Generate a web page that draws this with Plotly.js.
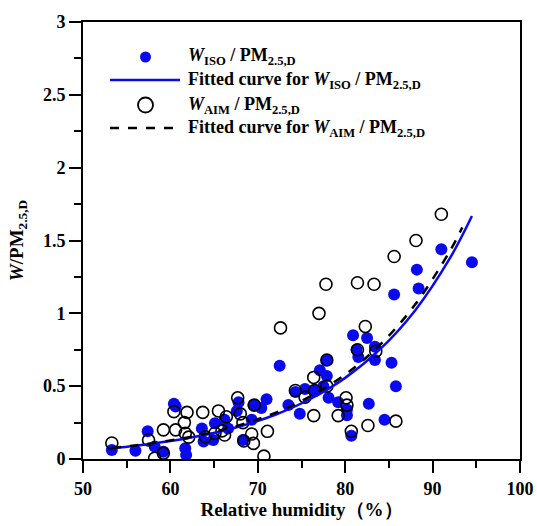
<!DOCTYPE html>
<html>
<head>
<meta charset="utf-8">
<script src="https://cdn.plot.ly/plotly-3.0.1.min.js"></script>
<style>html,body{margin:0;padding:0;background:#fff;}#chart{width:537px;height:526px;}</style>
</head>
<body>
<div id="chart"></div>
<script>
// W_ISO / PM2.5,D (filled blue)
const isoRH = [53.3,56.0,57.4,58.2,59.2,60.4,60.6,61.7,61.8,63.6,63.8,64.9,65.1,66.2,66.6,67.6,67.8,68.3,69.3,69.5,70.4,71.0,72.5,73.5,74.3,74.8,75.4,76.4,77.1,77.5,77.9,77.9,78.1,79.2,80.2,80.2,80.7,80.9,81.3,81.5,82.5,82.7,83.4,83.4,84.5,85.3,85.6,85.8,88.2,88.4,91.0,94.5];
const isoW  = [0.062,0.057,0.19,0.085,0.05,0.38,0.36,0.074,0.028,0.21,0.12,0.13,0.245,0.27,0.21,0.33,0.39,0.13,0.27,0.37,0.35,0.41,0.64,0.37,0.46,0.31,0.48,0.47,0.61,0.50,0.68,0.57,0.42,0.39,0.34,0.30,0.16,0.85,0.75,0.70,0.83,0.38,0.77,0.68,0.27,0.66,1.13,0.50,1.30,1.17,1.44,1.35];
// W_AIM / PM2.5,D (open circles)
const aimRH = [53.3,57.5,58.2,59.2,59.2,60.4,60.6,61.6,61.7,61.9,62.1,63.7,64.0,65.1,65.5,65.9,66.2,66.4,67.7,68.0,68.3,68.4,69.3,69.5,69.6,70.7,71.1,72.6,74.3,75.4,76.4,76.4,76.5,77.0,77.8,77.9,77.9,79.2,80.1,80.2,80.7,81.4,81.4,82.3,82.6,83.3,83.5,85.6,85.8,88.1,91.0];
const aimW  = [0.11,0.13,0.005,0.04,0.20,0.325,0.20,0.25,0.177,0.32,0.15,0.32,0.153,0.177,0.33,0.193,0.165,0.29,0.42,0.31,0.25,0.124,0.172,0.107,0.37,0.02,0.19,0.90,0.47,0.425,0.56,0.298,0.47,1.00,1.20,0.68,0.50,0.298,0.42,0.37,0.19,1.21,0.75,0.91,0.23,1.20,0.74,1.39,0.26,1.50,1.68];
// Fitted curves
const fitIsoRH = [53.3,56,60,64,68,72,76,80,84,88,92,94.5];
const fitIsoW  = [0.074,0.091,0.123,0.166,0.225,0.304,0.412,0.557,0.754,1.02,1.38,1.668];
const fitAimRH = [53.3,56,60,64,68,72,76,80,84,88,92,93.4];
const fitAimW  = [0.075,0.093,0.127,0.172,0.234,0.317,0.43,0.58,0.785,1.06,1.43,1.59];

const FONT = 'Liberation Serif, Times New Roman, serif';

const traces = [
  {x: isoRH, y: isoW, type:'scatter', mode:'markers', name:'iso',
   marker:{color:'#0a0af0', size:12, line:{width:0}}},
  {x: aimRH, y: aimW, type:'scatter', mode:'markers', name:'aim',
   marker:{color:'#000', size:12, symbol:'circle-open', line:{color:'#000', width:1.6}}},
  {x: fitIsoRH, y: fitIsoW, type:'scatter', mode:'lines', name:'fitiso', line:{color:'#0a0af0', width:2.5, shape:'spline'}},
  {x: fitAimRH, y: fitAimW, type:'scatter', mode:'lines', name:'fitaim', line:{color:'#000', width:2.5, dash:'dash', shape:'spline'}}
];

const legRows = [57, 80, 105, 128];
const legText = [
  '<b><i>W</i><sub>ISO</sub> / PM<sub>2.5,D</sub></b>',
  '<b>Fitted curve for <i>W</i><sub>ISO</sub> / PM<sub>2.5,D</sub></b>',
  '<b><i>W</i><sub>AIM</sub> / PM<sub>2.5,D</sub></b>',
  '<b>Fitted curve for <i>W</i><sub>AIM</sub> / PM<sub>2.5,D</sub></b>'
];
const W = 537, H = 526;
const L = v => (v-83)/437;
const T = v => (459-v)/437;

const annotations = legText.map((t,i)=>({
  xref:'paper', yref:'paper', x: L(186), y: T(legRows[i]),
  xanchor:'left', yanchor:'middle', text:t, showarrow:false,
  font:{family:FONT, size:18, color:'#000'}
}));

const shapes = [
  {type:'circle', xref:'paper', yref:'paper', x0:L(140), x1:L(151), y0:T(legRows[0]-5.5), y1:T(legRows[0]+5.5), fillcolor:'#0a0af0', line:{width:0}},
  {type:'line', xref:'paper', yref:'paper', x0:L(110), x1:L(180), y0:T(legRows[1]), y1:T(legRows[1]), line:{color:'#0a0af0', width:2.5}},
  {type:'circle', xref:'paper', yref:'paper', x0:L(138), x1:L(153), y0:T(legRows[2]-7.5), y1:T(legRows[2]+7.5), line:{color:'#000', width:1.8}},
  {type:'line', xref:'paper', yref:'paper', x0:L(110), x1:L(180), y0:T(legRows[3]), y1:T(legRows[3]), line:{color:'#000', width:2.5, dash:'dash'}}
];

const layout = {
  width: W, height: H,
  margin:{l:83, r:17, t:22, b:67},
  paper_bgcolor:'#fff', plot_bgcolor:'#fff',
  showlegend:false,
  font:{family:FONT, color:'#000'},
  xaxis:{
    range:[50,100], dtick:10, tick0:50, ticks:'outside', ticklen:12, tickwidth:2, tickcolor:'#000',
    minor:{dtick:5, ticks:'outside', ticklen:7, tickwidth:2, tickcolor:'#000'},
    showline:true, linewidth:2, linecolor:'#000', mirror:true, showgrid:false, zeroline:false,
    tickfont:{family:FONT, size:18, color:'#000', weight:'bold'},
    title:{text:'<b>Relative humidity（%）</b>', font:{family:FONT, size:19, color:'#000'}, standoff:0}
  },
  yaxis:{
    range:[0,3], dtick:0.5, tick0:0, ticks:'outside', ticklen:12, tickwidth:2, tickcolor:'#000',
    minor:{dtick:0.25, ticks:'outside', ticklen:7, tickwidth:2, tickcolor:'#000'},
    showline:true, linewidth:2, linecolor:'#000', mirror:true, showgrid:false, zeroline:false,
    tickfont:{family:FONT, size:18, color:'#000', weight:'bold'},
    title:{text:'<b><i>W</i>/PM<sub>2.5,D</sub></b>', font:{family:FONT, size:19, color:'#000'}, standoff:14}
  },
  annotations: annotations,
  shapes: shapes
};

Plotly.newPlot('chart', traces, layout, {displayModeBar:false, staticPlot:true});
</script>
</body>
</html>
